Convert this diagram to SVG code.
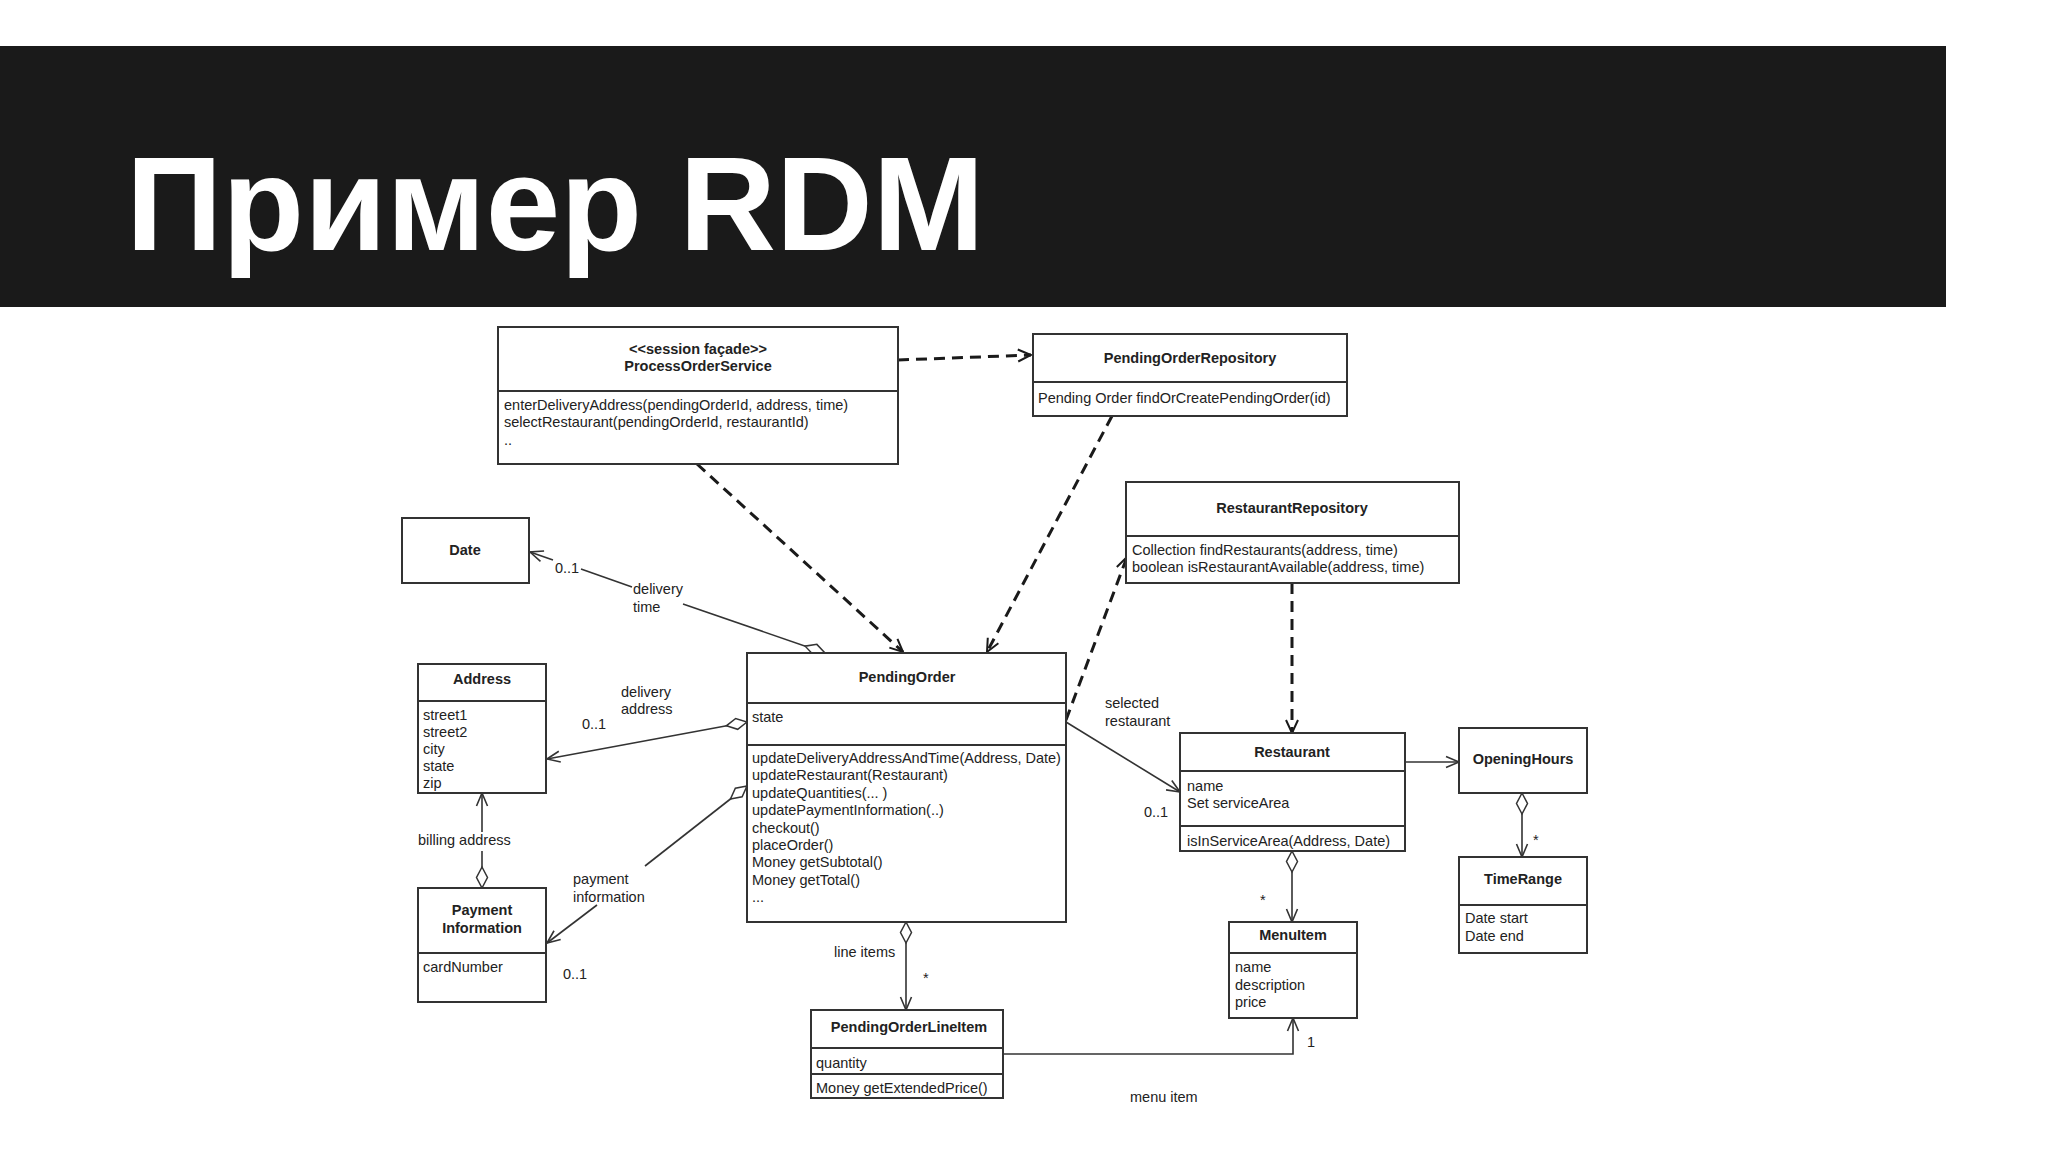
<svg xmlns="http://www.w3.org/2000/svg" width="2048" height="1152" viewBox="0 0 2048 1152">
<style>
.box{fill:#fff;stroke:#333;stroke-width:2}
.dv{stroke:#333;stroke-width:2}
.t{font-family:"Liberation Sans",Arial,sans-serif;font-size:14.5px;fill:#222}
.b{font-weight:bold;text-anchor:middle}
.ln{stroke:#333;stroke-width:1.6;fill:none}
.dash{stroke:#1a1a1a;stroke-width:3;stroke-dasharray:11 7;fill:none}
</style>
<defs>
<marker id="arr" markerUnits="userSpaceOnUse" viewBox="-15 -8 17 16" markerWidth="17" markerHeight="16" refX="0" refY="0" orient="auto">
<path d="M-13,-5.5 L0,0 L-13,5.5" fill="none" stroke="#333" stroke-width="1.6"/>
</marker>
<marker id="darr" markerUnits="userSpaceOnUse" viewBox="-15 -8 17 16" markerWidth="17" markerHeight="16" refX="0" refY="0" orient="auto">
<path d="M-13,-6 L0,0 L-13,6" fill="none" stroke="#1a1a1a" stroke-width="2"/>
</marker>
<marker id="dia" markerUnits="userSpaceOnUse" viewBox="-2 -7 25 14" markerWidth="25" markerHeight="14" refX="0" refY="0" orient="auto">
<path d="M0,0 L10.5,-5.5 L21,0 L10.5,5.5 Z" fill="#fff" stroke="#333" stroke-width="1.5"/>
</marker>
</defs>
<rect x="0" y="0" width="2048" height="1152" fill="#fff"/>
<rect x="0" y="46" width="1946" height="261" fill="#1a1a1a"/>
<text x="126" y="250" font-family="Liberation Sans,Arial,sans-serif" font-weight="bold" font-size="134" fill="#fff">Пример RDM</text>

<g id="connectors">
<path class="dash" d="M898,360 L1031,355" marker-end="url(#darr)"/>
<path class="dash" d="M697,464 L903,652" marker-end="url(#darr)"/>
<path class="dash" d="M1112,416 L987,652" marker-end="url(#darr)"/>
<path class="dash" d="M1066,720 L1127,557" marker-end="url(#darr)"/>
<path class="dash" d="M1292,583 L1292,733" marker-end="url(#darr)"/>
<path class="ln" d="M825,653 L683,604" marker-start="url(#dia)"/>
<path class="ln" d="M632,587 L581,569"/>
<path class="ln" d="M553,560 L530,552" marker-end="url(#arr)"/>
<path class="ln" d="M747,722 L547,759" marker-start="url(#dia)" marker-end="url(#arr)"/>
<path class="ln" d="M482,888 L482,851" marker-start="url(#dia)"/>
<path class="ln" d="M482,832 L482,793" marker-end="url(#arr)"/>
<path class="ln" d="M747,786 L645,866" marker-start="url(#dia)"/>
<path class="ln" d="M597,905 L547,943" marker-end="url(#arr)"/>
<path class="ln" d="M906,922 L906,1010" marker-start="url(#dia)" marker-end="url(#arr)"/>
<path class="ln" d="M1066,722 L1180,792" marker-end="url(#arr)"/>
<path class="ln" d="M1405,762 L1459,762" marker-end="url(#arr)"/>
<path class="ln" d="M1522,793 L1522,857" marker-start="url(#dia)" marker-end="url(#arr)"/>
<path class="ln" d="M1292,851 L1292,922" marker-start="url(#dia)" marker-end="url(#arr)"/>
<path class="ln" d="M1003,1054 L1293,1054 L1293,1018" marker-end="url(#arr)"/>
<text class="t" x="555" y="573">0..1</text>
<text class="t" x="633" y="594">delivery</text>
<text class="t" x="633" y="612">time</text>
<text class="t" x="621" y="697">delivery</text>
<text class="t" x="621" y="714">address</text>
<text class="t" x="582" y="729">0..1</text>
<text class="t" x="418" y="845">billing address</text>
<text class="t" x="573" y="884">payment</text>
<text class="t" x="573" y="902">information</text>
<text class="t" x="563" y="979">0..1</text>
<text class="t" x="834" y="957">line items</text>
<text class="t" x="923" y="983">*</text>
<text class="t" x="1105" y="708">selected</text>
<text class="t" x="1105" y="726">restaurant</text>
<text class="t" x="1144" y="817">0..1</text>
<text class="t" x="1260" y="905">*</text>
<text class="t" x="1533" y="845">*</text>
<text class="t" x="1307" y="1047">1</text>
<text class="t" x="1130" y="1102">menu item</text>
</g>

<g id="ProcessOrderService">
<rect class="box" x="498" y="327" width="400" height="137"/>
<line class="dv" x1="498" y1="391" x2="898" y2="391"/>
<text class="t b" x="698" y="354" font-size="13.5">&lt;&lt;session façade&gt;&gt;</text>
<text class="t b" x="698" y="371">ProcessOrderService</text>
<text class="t" x="504" y="410">enterDeliveryAddress(pendingOrderId, address, time)</text>
<text class="t" x="504" y="427">selectRestaurant(pendingOrderId, restaurantId)</text>
<text class="t" x="504" y="445">..</text>
</g>

<g id="PendingOrderRepository">
<rect class="box" x="1033" y="334" width="314" height="82"/>
<line class="dv" x1="1033" y1="382" x2="1347" y2="382"/>
<text class="t b" x="1190" y="363">PendingOrderRepository</text>
<text class="t" x="1038" y="403">Pending Order findOrCreatePendingOrder(id)</text>
</g>

<g id="RestaurantRepository">
<rect class="box" x="1126" y="482" width="333" height="101"/>
<line class="dv" x1="1126" y1="536" x2="1459" y2="536"/>
<text class="t b" x="1292" y="513">RestaurantRepository</text>
<text class="t" x="1132" y="555">Collection findRestaurants(address, time)</text>
<text class="t" x="1132" y="572">boolean isRestaurantAvailable(address, time)</text>
</g>

<g id="Date">
<rect class="box" x="402" y="518" width="127" height="65"/>
<text class="t b" x="465" y="555">Date</text>
</g>

<g id="Address">
<rect class="box" x="418" y="664" width="128" height="129"/>
<line class="dv" x1="418" y1="701" x2="546" y2="701"/>
<text class="t b" x="482" y="684">Address</text>
<text class="t" x="423" y="720">street1</text>
<text class="t" x="423" y="737">street2</text>
<text class="t" x="423" y="754">city</text>
<text class="t" x="423" y="771">state</text>
<text class="t" x="423" y="788">zip</text>
</g>

<g id="PaymentInformation">
<rect class="box" x="418" y="888" width="128" height="114"/>
<line class="dv" x1="418" y1="953" x2="546" y2="953"/>
<text class="t b" x="482" y="915">Payment</text>
<text class="t b" x="482" y="933">Information</text>
<text class="t" x="423" y="972">cardNumber</text>
</g>

<g id="PendingOrder">
<rect class="box" x="747" y="653" width="319" height="269"/>
<line class="dv" x1="747" y1="703" x2="1066" y2="703"/>
<line class="dv" x1="747" y1="745" x2="1066" y2="745"/>
<text class="t b" x="907" y="682">PendingOrder</text>
<text class="t" x="752" y="722">state</text>
<text class="t" x="752" y="763">updateDeliveryAddressAndTime(Address, Date)</text>
<text class="t" x="752" y="780.4">updateRestaurant(Restaurant)</text>
<text class="t" x="752" y="797.8">updateQuantities(... )</text>
<text class="t" x="752" y="815.2">updatePaymentInformation(..)</text>
<text class="t" x="752" y="832.6">checkout()</text>
<text class="t" x="752" y="850">placeOrder()</text>
<text class="t" x="752" y="867.4">Money getSubtotal()</text>
<text class="t" x="752" y="884.8">Money getTotal()</text>
<text class="t" x="752" y="902.2">...</text>
</g>

<g id="PendingOrderLineItem">
<rect class="box" x="811" y="1010" width="192" height="88"/>
<line class="dv" x1="811" y1="1048" x2="1003" y2="1048"/>
<line class="dv" x1="811" y1="1074" x2="1003" y2="1074"/>
<text class="t b" x="909" y="1032">PendingOrderLineItem</text>
<text class="t" x="816" y="1068">quantity</text>
<text class="t" x="816" y="1093">Money getExtendedPrice()</text>
</g>

<g id="Restaurant">
<rect class="box" x="1180" y="733" width="225" height="118"/>
<line class="dv" x1="1180" y1="771" x2="1405" y2="771"/>
<line class="dv" x1="1180" y1="826" x2="1405" y2="826"/>
<text class="t b" x="1292" y="757">Restaurant</text>
<text class="t" x="1187" y="791">name</text>
<text class="t" x="1187" y="808">Set serviceArea</text>
<text class="t" x="1187" y="846">isInServiceArea(Address, Date)</text>
</g>

<g id="OpeningHours">
<rect class="box" x="1459" y="728" width="128" height="65"/>
<text class="t b" x="1523" y="764">OpeningHours</text>
</g>

<g id="TimeRange">
<rect class="box" x="1459" y="857" width="128" height="96"/>
<line class="dv" x1="1459" y1="905" x2="1587" y2="905"/>
<text class="t b" x="1523" y="884">TimeRange</text>
<text class="t" x="1465" y="923">Date start</text>
<text class="t" x="1465" y="941">Date end</text>
</g>

<g id="MenuItem">
<rect class="box" x="1229" y="922" width="128" height="96"/>
<line class="dv" x1="1229" y1="953" x2="1357" y2="953"/>
<text class="t b" x="1293" y="940">MenuItem</text>
<text class="t" x="1235" y="972">name</text>
<text class="t" x="1235" y="990">description</text>
<text class="t" x="1235" y="1007">price</text>
</g>
</svg>
